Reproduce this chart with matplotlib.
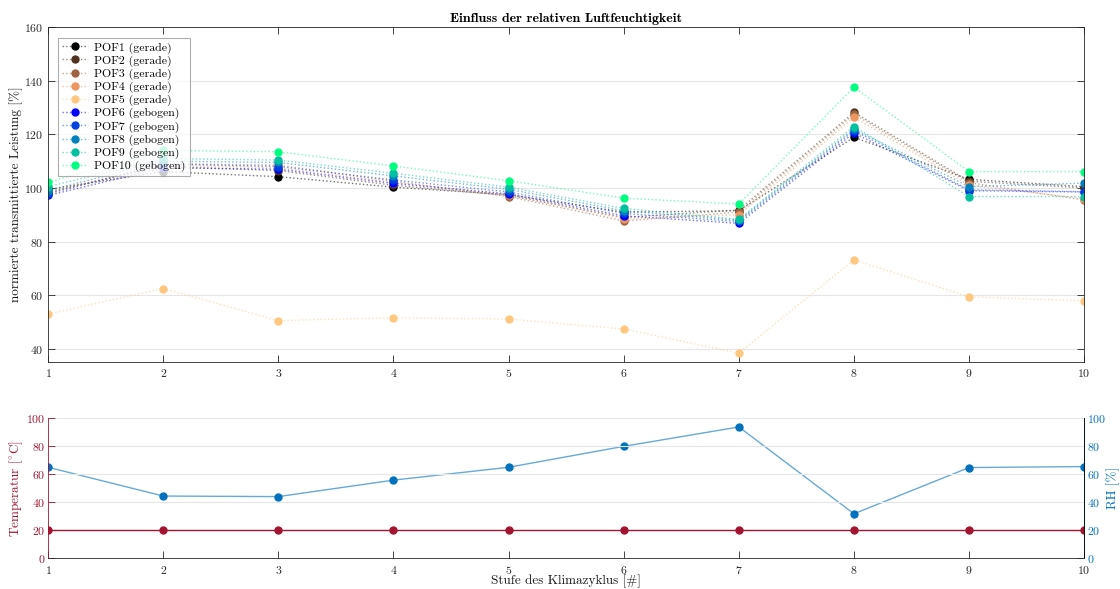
import matplotlib
matplotlib.use("Agg")
from matplotlib import pyplot as plt
import numpy as np

plt.rcParams["font.family"] = ["cmr10", "DejaVu Serif"]
plt.rcParams["mathtext.fontset"] = "cm"
plt.rcParams["axes.formatter.use_mathtext"] = True

stufe = [1, 2, 3, 4, 5, 6, 7, 8, 9, 10]

labels = ["POF1 (gerade)", "POF2 (gerade)", "POF3 (gerade)", "POF4 (gerade)",
          "POF5 (gerade)", "POF6 (gebogen)", "POF7 (gebogen)", "POF8 (gebogen)",
          "POF9 (gebogen)", "POF10 (gebogen)"]

pof1 = [99.5, 106.1, 104.2, 100.3, 97.5, 91.0, 91.5, 118.9, 103.2, 100.5]
pof2 = [98.5, 108.0, 106.5, 101.0, 97.2, 89.0, 91.8, 128.2, 102.5, 100.0]
pof3 = [98.0, 109.0, 108.5, 102.5, 96.8, 87.7, 91.0, 127.5, 102.0, 95.5]
pof4 = [98.5, 108.5, 107.5, 102.0, 97.5, 88.5, 90.0, 126.4, 101.0, 96.0]
pof5 = [53.0, 62.5, 50.5, 51.6, 51.1, 47.4, 38.4, 73.2, 59.4, 57.9]
pof6 = [97.2, 107.5, 107.0, 101.7, 97.8, 89.6, 86.8, 120.5, 99.0, 98.5]
pof7 = [97.8, 109.0, 108.0, 103.0, 98.5, 90.5, 87.5, 121.4, 99.3, 98.6]
pof8 = [99.0, 110.0, 109.5, 104.5, 99.5, 91.5, 88.0, 122.0, 100.5, 101.8]
pof9 = [100.5, 111.0, 110.4, 105.5, 100.3, 92.4, 88.3, 122.9, 96.8, 96.8]
pof10 = [102.1, 114.0, 113.5, 108.2, 102.7, 96.2, 94.0, 137.6, 106.1, 106.1]
leistung = [pof1, pof2, pof3, pof4, pof5, pof6, pof7, pof8, pof9, pof10]

temperatur = [20, 20, 20, 20, 20, 20, 20, 20, 20, 20]
rh = [65.0, 44.4, 44.0, 55.8, 65.0, 80.0, 93.9, 31.7, 64.8, 65.5]

# copper for the straight fibres, winter for the bent ones
farben = list(plt.cm.copper(np.linspace(0, 1, 5))) + list(plt.cm.winter(np.linspace(0, 1, 5)))

rot = (0.635, 0.078, 0.184)
blau = (0.0, 0.447, 0.741)

fig = plt.figure(figsize=(11.2, 5.89), dpi=100)
ax = fig.add_axes([0.043, 0.385, 0.925, 0.569])
ax2 = fig.add_axes([0.043, 0.0526, 0.925, 0.237])

for werte, name, c in zip(leistung, labels, farben):
    r, g, b = c[0], c[1], c[2]
    ax.plot(stufe, werte, ":", color=(r, g, b, 0.55), lw=1.0, marker="o", ms=5,
            markerfacecolor=(r, g, b), markeredgecolor=(r, g, b), label=name)

ax.set_xlim(1, 10)
ax.set_ylim(35, 160)
ax.set_xticks(stufe)
ax.set_yticks([40, 60, 80, 100, 120, 140, 160])
ax.tick_params(direction="in", top=True, right=True, labelsize=8.5, colors="0.15",
               length=5, width=0.6)
ax.yaxis.grid(True, color="0.9", lw=0.8)
ax.set_axisbelow(True)
for s in ax.spines.values():
    s.set_color("0.15")
    s.set_linewidth(0.6)
ax.set_ylabel("normierte transmittierte Leistung [%]", fontsize=9.5, color="0.1", labelpad=1)
ax.set_title("Einfluss der relativen Luftfeuchtigkeit", fontsize=10, fontfamily="cmb10", pad=4)
leg = ax.legend(loc="upper left", fontsize=8.5, frameon=True, fancybox=False,
                edgecolor="0.6", handlelength=2.2, labelspacing=0.15,
                borderpad=0.35, handletextpad=0.5, bbox_to_anchor=(0.004, 0.985))
leg.get_frame().set_linewidth(0.8)

# lower panel: temperature left, relative humidity right
ax2.plot(stufe, temperatur, "-o", color=rot, lw=1.0, ms=5)
ax2.set_ylim(0, 100)
ax2.set_xlim(1, 10)
ax2.set_xticks(stufe)
ax2.set_yticks([0, 20, 40, 60, 80, 100])
ax2.yaxis.grid(True, color="0.9", lw=0.8)
ax2.set_axisbelow(True)
ax2.tick_params(axis="y", direction="in", colors=rot, labelsize=8.5, length=5, width=0.6, pad=2)
ax2.tick_params(axis="x", direction="in", colors="0.15", labelsize=8.5, length=5, width=0.6, pad=4)
ax2.set_ylabel(r"Temperatur [$^{\circ}$C]", color=rot, fontsize=9.5, labelpad=1)
ax2.set_xlabel("Stufe des Klimazyklus [#]", fontsize=9.5, color="0.1", labelpad=-1)
ax2.spines["left"].set_color(rot)
ax2.spines["bottom"].set_color("0.15")
ax2.spines["top"].set_visible(False)
for s in ax2.spines.values():
    s.set_linewidth(0.6)

ax3 = ax2.twinx()
ax3.plot(stufe, rh, "-", color=(0.0, 0.447, 0.741, 0.6), lw=1.0)
ax3.plot(stufe, rh, "o", color=blau, ms=5)
ax3.set_ylim(0, 100)
ax3.set_yticks([0, 20, 40, 60, 80, 100])
ax3.tick_params(axis="y", direction="in", colors=blau, labelsize=8.5, length=5, width=0.6, pad=2)
ax3.set_ylabel("RH [%]", color=blau, fontsize=9.5, labelpad=0)
for name in ["left", "top", "bottom"]:
    ax3.spines[name].set_visible(False)
ax3.spines["right"].set_color(blau)
ax3.spines["right"].set_linewidth(0.6)
ax2.set_zorder(ax3.get_zorder() + 1)
ax2.patch.set_visible(False)

fig.savefig("out.png", dpi=100)
